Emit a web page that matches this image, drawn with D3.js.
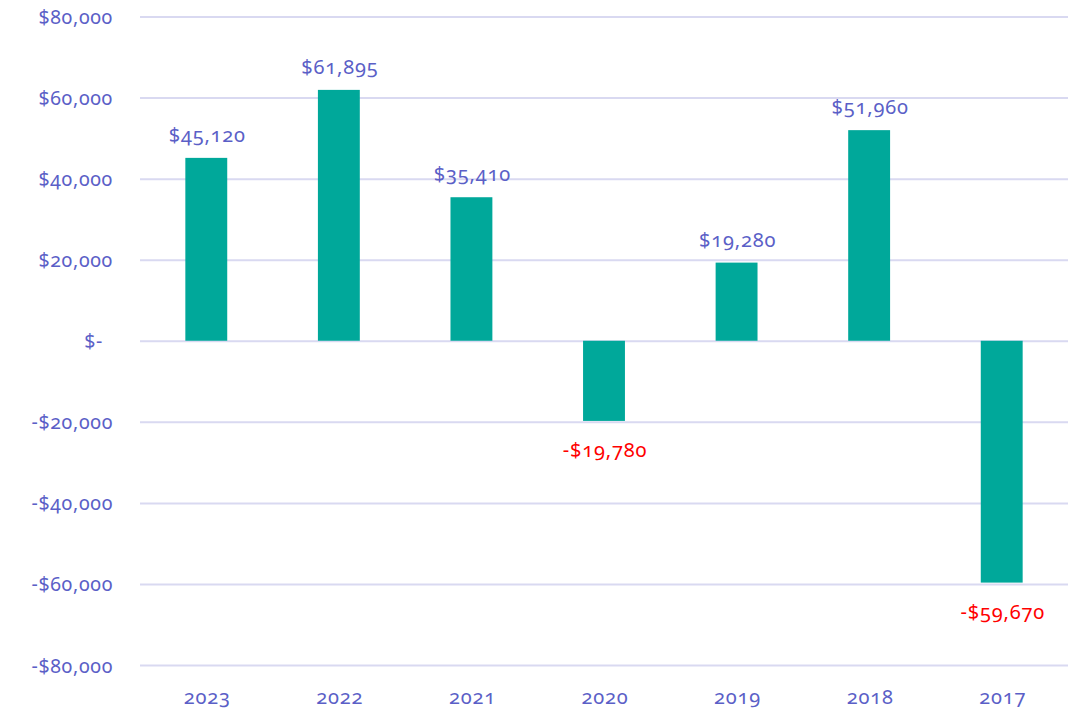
<!DOCTYPE html>
<html>
<head>
<meta charset="utf-8">
<script src="https://cdn.jsdelivr.net/npm/d3@7"></script>
<style>
  body { margin: 0; background: #fff; }
  svg { display: block; }
  svg text { font-family: "Noto Sans", "Open Sans", sans-serif; font-variant-numeric: oldstyle-nums; }
</style>
</head>
<body>
<div id="chart"></div>
<script>
// data
const years = ['2023', '2022', '2021', '2020', '2019', '2018', '2017'];
const netValues = [45120, 61895, 35410, -19780, 19280, 51960, -59670];
const yTicks = [-80000, -60000, -40000, -20000, 0, 20000, 40000, 60000, 80000];

const width = 1068, height = 710;
const margin = { top: 16.5, right: 0, bottom: 45, left: 140 };

const textColor = '#5b5fc7';
const gridColor = '#d9d9f1';
const barColor = '#00a89a';
const negColor = '#ff0000';

const svg = d3.select('#chart').append('svg')
    .attr('width', width)
    .attr('height', height);

const x = d3.scaleBand()
    .domain(years)
    .range([margin.left, width - margin.right])
    .paddingInner(0.684)
    .paddingOuter(0.342);

const y = d3.scaleLinear()
    .domain([-80000, 80000])
    .range([height - margin.bottom, margin.top]);

const money = v => {
    if (v === 0) return '$-';
    const s = d3.format(',')(Math.abs(v));
    return (v < 0 ? '-$' : '$') + s;
};

// ─── Gridlines + y labels ───
const yAxis = svg.append('g')
    .attr('transform', `translate(${margin.left},0)`)
    .call(d3.axisLeft(y).tickValues(yTicks).tickFormat(money)
        .tickSize(-(width - margin.left - margin.right)).tickPadding(27));
yAxis.attr('font-family', null);
yAxis.select('.domain').remove();
yAxis.selectAll('.tick line').attr('stroke', gridColor).attr('stroke-width', 2);
yAxis.selectAll('.tick text')
    .attr('fill', textColor)
    .style('font-size', '19.5px')
    .style('letter-spacing', '0.7px')
    .attr('dy', '0.36em')
    .attr('dx', d => d === 0 ? -10 : 0);

// ─── Bars ───
svg.append('g').selectAll('rect')
    .data(years)
    .join('rect')
    .attr('x', (d, i) => x(d))
    .attr('width', x.bandwidth())
    .attr('y', (d, i) => y(Math.max(0, netValues[i])))
    .attr('height', (d, i) => Math.abs(y(netValues[i]) - y(0)))
    .attr('fill', barColor);

// ─── Value labels ───
svg.append('g').selectAll('text')
    .data(years)
    .join('text')
    .attr('x', d => x(d) + x.bandwidth() / 2 + 1)
    .attr('y', (d, i) => netValues[i] >= 0 ? y(netValues[i]) - 16 : y(netValues[i]) + 36)
    .attr('text-anchor', 'middle')
    .attr('fill', (d, i) => netValues[i] >= 0 ? textColor : negColor)
    .style('font-size', '20px')
    .style('letter-spacing', '0.8px')
    .text((d, i) => money(netValues[i]));

// ─── X labels ───
svg.append('g').selectAll('text')
    .data(years)
    .join('text')
    .attr('x', d => x(d) + x.bandwidth() / 2 + 1)
    .attr('y', 704)
    .attr('text-anchor', 'middle')
    .attr('fill', textColor)
    .style('font-size', '20px')
    .style('letter-spacing', '0.8px')
    .text(d => d);
</script>
</body>
</html>
